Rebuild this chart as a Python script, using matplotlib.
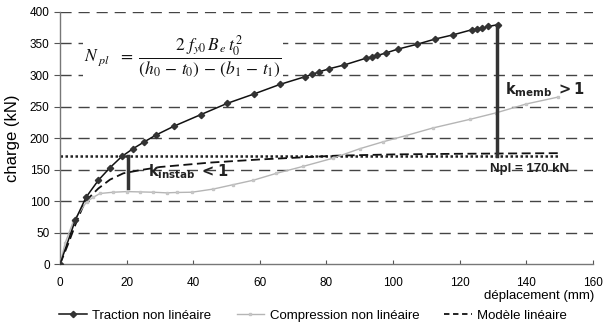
import matplotlib
matplotlib.use("Agg")
import matplotlib.pyplot as plt
from matplotlib.lines import Line2D

plt.rcParams['font.family'] = ['Liberation Sans', 'DejaVu Sans']
plt.rcParams['mathtext.fontset'] = 'stix'

# Traction non linéaire
trac_x = [0, 4.6, 7.8, 11.5, 15, 18.6, 21.9, 25.3, 28.9, 34.3, 42.2, 50.2, 58.3, 66, 73.7,
          75.7, 77.8, 80.9, 85.4, 91.9, 93.6, 95.3, 97.9, 101.4, 107.1, 112.6, 118.1, 123.6,
          125.1, 126.6, 128.6, 131.6]
trac_y = [0, 70, 106, 133, 153, 171, 183, 194, 205, 219, 237, 255, 270, 285, 297.5,
          301, 305, 310, 316, 326.7, 328.7, 331, 335, 341, 348.6, 357, 363.8, 371.7,
          372.7, 374, 377, 380]

# Compression non linéaire
comp_x = [0, 1.5, 4, 8, 10, 12, 16, 20, 24, 28, 32, 35, 39.6, 46, 52, 58, 65, 73, 82, 90,
          97, 104, 112, 123, 131, 140, 149.6]
comp_y = [0, 33, 68, 99, 106, 112, 114, 115, 114.5, 114, 113, 113.6, 114, 119, 126, 133,
          144, 155, 168, 183, 194, 204, 216, 229.5, 240, 254, 265]

# Modèle linéaire
mod_x = [0, 2.5, 5, 7.5, 11.5, 15, 19, 24, 30, 45, 60, 83, 100, 120, 150]
mod_y = [0, 33, 68, 99, 120, 134, 144, 149, 154, 161, 166, 172, 174, 175, 176]

npl = 172
x_ticks = [0, 20, 40, 60, 80, 100, 120, 140, 160]
y_ticks = [0, 50, 100, 150, 200, 250, 300, 350, 400]

fig = plt.figure(figsize=(6.13, 3.24), dpi=100)
ax = fig.add_axes([0.098, 0.185, 0.869, 0.778])

for yv in y_ticks[1:]:
    ax.axhline(yv, color='#444444', lw=1.0, dashes=(8, 5), zorder=1)

ax.plot([0, 150], [npl, npl], color='#222222', lw=1.8, ls=(0, (1, 1)), zorder=2)

ax.plot(mod_x, mod_y, color='#111111', lw=1.3, dashes=(5, 2.5), zorder=3)
ax.plot(comp_x, comp_y, color='#b5b5b5', lw=1.0, marker='s', ms=2.0,
        mfc='#d0d0d0', mec='#c4c4c4', zorder=3)
ax.plot(trac_x, trac_y, color='#111111', lw=1.1, marker='D', ms=3.2,
        mfc='#333333', mec='#333333', zorder=4)

# vertical bars
ax.plot([131.2, 131.2], [npl, 380], color='#333333', lw=2.5, zorder=5)
ax.plot([20.5, 20.5], [npl, 121], color='#333333', lw=2.5, zorder=5)

ax.text(26.5, 146, r'$\mathbf{k}_{\mathbf{instab}}\ \mathbf{<1}$',
        fontsize=10.5, va='center', ha='left', color='#222222', zorder=6,
        math_fontfamily='dejavusans')
ax.text(133.5, 276, r'$\mathbf{k}_{\mathbf{memb}}\ \mathbf{>1}$',
        fontsize=10.5, va='center', ha='left', color='#222222', zorder=6,
        math_fontfamily='dejavusans')
ax.text(129, 151, 'Npl = 170 kN', fontsize=9.5, fontweight='bold',
        va='center', ha='left', color='#222222', zorder=6)

ax.text(7.3, 330, r'$N_{\ pl}\ \ =\ \dfrac{2\ f_{y0}\,B_{\,e}\,t_0^{\,2}}{(h_0\,-\,t_0)\,-\,(b_1\,-\,t_1)}$',
        fontsize=12.5, va='center', ha='left', color='#111111', zorder=6,
        bbox=dict(facecolor='white', edgecolor='none', pad=1))

ax.set_xlim(0, 160)
ax.set_ylim(0, 400)
ax.set_xticks(x_ticks)
ax.set_yticks(y_ticks)
ax.tick_params(axis='x', direction='in', length=3, labelsize=8.5, pad=9, color='#555555')
ax.tick_params(axis='y', direction='out', length=4, labelsize=8.5, color='#555555')
for s in ['top', 'right']:
    ax.spines[s].set_visible(False)
for s in ['left', 'bottom']:
    ax.spines[s].set_color('#777777')
    ax.spines[s].set_linewidth(1.0)

ax.set_ylabel('charge (kN)', fontsize=12)
ax.yaxis.set_label_coords(-0.075, 0.5)
fig.text(0.969, 0.0877, 'déplacement (mm)', fontsize=9.5, ha='right', va='center')

handles = [
    Line2D([], [], color='#111111', lw=1.1, marker='D', ms=3.2, mfc='#333333', mec='#333333'),
    Line2D([], [], color='#b5b5b5', lw=1.0, marker='s', ms=2.0, mfc='#d0d0d0', mec='#c4c4c4'),
    Line2D([], [], color='#111111', lw=1.3, dashes=(3, 2)),
]
labels = ['Traction non linéaire', 'Compression non linéaire', 'Modèle linéaire']
fig.legend(handles, labels, loc='center', bbox_to_anchor=(0.511, 0.025), ncol=3,
           frameon=False, fontsize=9.5, handlelength=2.1, handletextpad=0.4,
           columnspacing=1.9, borderpad=0.1)

fig.savefig('out.png', dpi=100)
